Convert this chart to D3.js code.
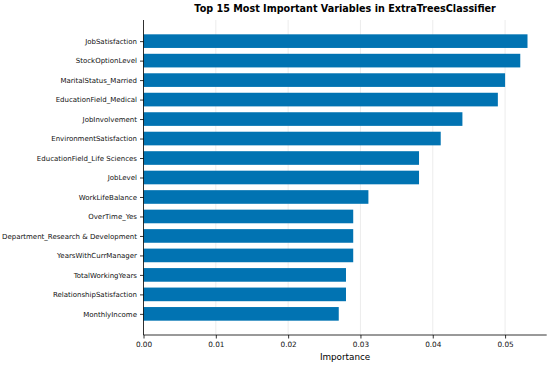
<!DOCTYPE html>
<html>
<head>
<meta charset="utf-8">
<script src="https://cdn.jsdelivr.net/npm/d3@7"></script>
<style>
  body { margin: 0; background: #fff; }
  svg { font-family: "DejaVu Sans", sans-serif; }
</style>
</head>
<body>
<div id="chart"></div>
<script>
// listed bottom to top, as matplotlib draws barh
const features = [
  "MonthlyIncome", "RelationshipSatisfaction", "TotalWorkingYears", "YearsWithCurrManager",
  "Department_Research & Development", "OverTime_Yes", "WorkLifeBalance", "JobLevel",
  "EducationField_Life Sciences", "EnvironmentSatisfaction", "JobInvolvement",
  "EducationField_Medical", "MaritalStatus_Married", "StockOptionLevel", "JobSatisfaction"
];
const importance = [
  0.0270, 0.0280, 0.0280, 0.0290,
  0.0290, 0.0290, 0.0311, 0.0381,
  0.0381, 0.0411, 0.0441,
  0.0490, 0.0500, 0.0521, 0.0531
];
const xTicks = [0, 0.01, 0.02, 0.03, 0.04, 0.05];

const W = 550, H = 366;
const plot = { left: 143.5, right: 546.7, top: 20, bottom: 335 };
const barH = 0.7;
const n = features.length;
const xMax = d3.max(importance) * 1.05;
const yPad = (n - 1 + barH) * 0.05;

const svg = d3.select("#chart").append("svg")
  .attr("width", W).attr("height", H);

const x = d3.scaleLinear().domain([0, xMax]).range([plot.left, plot.right]);
const y = d3.scaleLinear()
  .domain([-barH / 2 - yPad, n - 1 + barH / 2 + yPad])
  .range([plot.bottom, plot.top]);

// grid
svg.append("g").selectAll("line")
  .data(xTicks)
  .enter().append("line")
  .attr("x1", d => x(d)).attr("x2", d => x(d))
  .attr("y1", plot.top).attr("y2", plot.bottom)
  .attr("stroke", "#b0b0b0").attr("stroke-width", 0.8)
  .attr("stroke-opacity", 0.3);

// bars
svg.append("g").selectAll("rect")
  .data(importance)
  .enter().append("rect")
  .attr("x", x(0))
  .attr("y", (d, i) => y(i + barH / 2))
  .attr("width", d => x(d) - x(0))
  .attr("height", (d, i) => y(i - barH / 2) - y(i + barH / 2))
  .attr("fill", "#0173b2");

// x axis
const xAxis = svg.append("g")
  .attr("transform", `translate(0,${plot.bottom})`)
  .call(d3.axisBottom(x).tickValues(xTicks).tickFormat(d3.format(".2f")).tickSize(3.5).tickPadding(3));
xAxis.select(".domain").attr("stroke", "#000").attr("stroke-width", 0.8).attr("d", `M${plot.left},0H${plot.right}`);
xAxis.selectAll(".tick line").attr("stroke", "#000").attr("stroke-width", 0.8);
xAxis.selectAll(".tick text").attr("font-size", 7.3).attr("fill", "#111")
  .attr("font-family", "DejaVu Sans");

// y axis
const yAxis = svg.append("g")
  .attr("transform", `translate(${plot.left},0)`)
  .call(d3.axisLeft(y).tickValues(d3.range(n)).tickFormat(i => features[i]).tickSize(3.5).tickPadding(3));
yAxis.select(".domain").attr("stroke", "#000").attr("stroke-width", 0.8).attr("d", `M0,${plot.top}V${plot.bottom}`);
yAxis.selectAll(".tick line").attr("stroke", "#000").attr("stroke-width", 0.8);
yAxis.selectAll(".tick text").attr("font-size", 7).attr("fill", "#111")
  .attr("font-family", "DejaVu Sans");

svg.append("text")
  .attr("x", (plot.left + plot.right) / 2).attr("y", 360)
  .attr("text-anchor", "middle")
  .attr("font-size", 8.8)
  .text("Importance");

svg.append("text")
  .attr("x", (plot.left + plot.right) / 2).attr("y", 12)
  .attr("text-anchor", "middle")
  .attr("font-size", 9.65)
  .attr("font-weight", "bold")
  .text("Top 15 Most Important Variables in ExtraTreesClassifier");
</script>
</body>
</html>
